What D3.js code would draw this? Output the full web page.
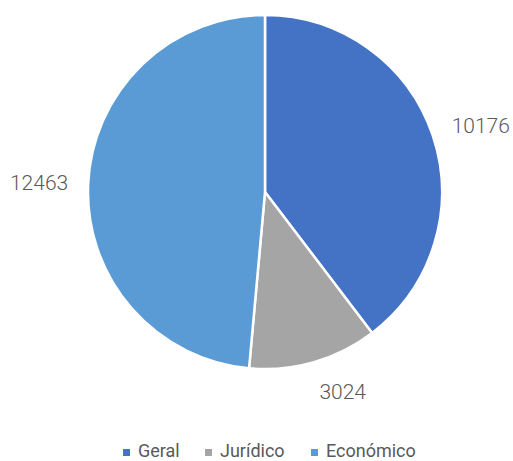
<!DOCTYPE html>
<html>
<head>
<meta charset="utf-8">
<script src="https://cdn.jsdelivr.net/npm/d3@7"></script>
<style>
  body { margin: 0; background: #fff; }
  text { font-family: Roboto, "Liberation Sans", sans-serif; fill: #595959; }
</style>
</head>
<body>
<div class="visHolder"></div>
<script>
const width = 513,
  height = 461,
  radius = 177;

const categories = ["Geral", "Jurídico", "Económico"];
const values = [10176, 3024, 12463];
const colors = ["#4472C4", "#A5A5A5", "#5B9BD5"];

const data = categories.map((c, i) => ({ name: c, value: values[i] }));

const svg = d3
  .select(".visHolder")
  .append("svg")
  .attr("width", width)
  .attr("height", height);

const pieGroup = svg.append("g").attr("transform", "translate(265,192)");

const pie = d3.pie().sort(null).value((d) => d.value);
const arc = d3.arc().innerRadius(0).outerRadius(radius);

const slices = pie(data);

pieGroup
  .selectAll("path")
  .data(slices)
  .enter()
  .append("path")
  .attr("d", arc)
  .style("fill", (d, i) => colors[i])
  .style("stroke", "#fff")
  .style("stroke-width", 2.5);

// labels outside the slice end, box pushed away from the pie
const labelFont = 21;
pieGroup
  .selectAll(".label")
  .data(slices)
  .enter()
  .append("text")
  .attr("class", "label")
  .style("font-size", labelFont + "px")
  .style("font-weight", 300)
  .attr("text-anchor", "middle")
  .attr("dy", "0.35em")
  .text((d) => d.data.value)
  .each(function (d) {
    const a = (d.startAngle + d.endAngle) / 2;
    const w = this.getComputedTextLength();
    const r = radius + 20;
    const x = Math.sin(a) * r + (w / 2) * Math.sign(Math.sin(a));
    const y = -Math.cos(a) * r - (labelFont / 2) * Math.cos(a);
    d3.select(this).attr("x", x).attr("y", y);
  });

// legend
const legend = svg.append("g").attr("id", "legend");
const legendX = [123, 205, 311];

const entries = legend
  .selectAll(".legendEntries")
  .data(categories)
  .enter()
  .append("g")
  .attr("class", "legendEntries")
  .attr("transform", (d, i) => "translate(" + legendX[i] + ",449)");

entries
  .append("rect")
  .attr("width", 7)
  .attr("height", 7)
  .attr("y", 0)
  .style("fill", (d, i) => colors[i]);

entries
  .append("text")
  .attr("x", 15)
  .attr("y", 8)
  .style("font-size", "18px")
  .text((d) => d);
</script>
</body>
</html>
